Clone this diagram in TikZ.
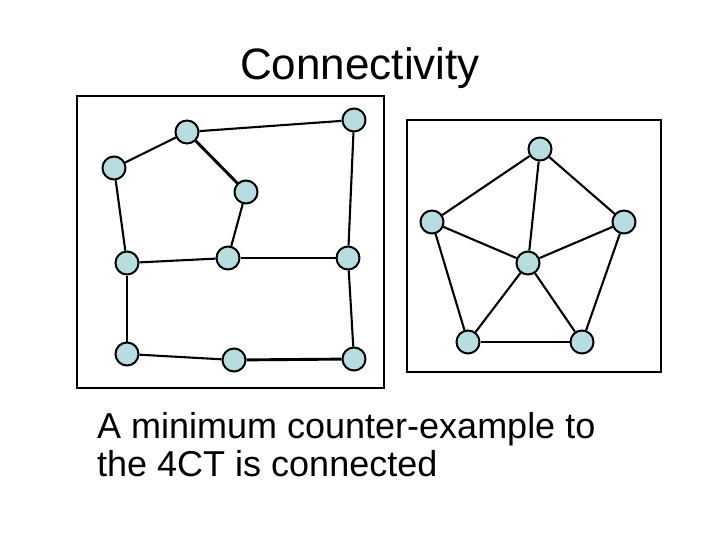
\documentclass[tikz,border=0pt]{standalone}
\usepackage{fontspec}
\setmainfont{Liberation Sans}
\usepackage{xcolor}
\usepackage{tikz}
\definecolor{vertexblue}{RGB}{184,221,225}

\begin{document}
\begin{tikzpicture}[
    x=1pt, y=-1pt,
    vx/.style={circle, draw, line width=2pt, fill=vertexblue, minimum size=23pt, inner sep=0pt},
    ed/.style={draw, line width=2.1pt},
    edb/.style={draw, line width=2.9pt},
    frame/.style={draw, line width=2.4pt}
]
\useasboundingbox (0,0) rectangle (720,540);

\node[font=\fontsize{44}{48}\selectfont] (title) at (360,68) {Connectivity};

% left graph: two cycles joined
\draw[frame] (77,96) rectangle (384,388);
\node[vx] (a) at (187,132) {};
\node[vx] (b) at (354,120) {};
\node[vx] (c) at (114,168) {};
\node[vx] (d) at (246,192) {};
\node[vx] (e) at (127,263) {};
\node[vx] (f) at (228,258) {};
\node[vx] (g) at (348,258) {};
\node[vx] (h) at (127,354) {};
\node[vx] (i) at (234,360) {};
\node[vx] (j) at (354,359) {};

\draw[ed] (a) -- (b);
\draw[ed] (a) -- (c);
\draw[edb] (a) -- (d);
\draw[ed] (c) -- (e);
\draw[ed] (d) -- (f);
\draw[ed] (e) -- (f);
\draw[edb] (f) -- (g);
\draw[ed] (b) -- (g);
\draw[edb] (e) -- (h);
\draw[ed] (g) -- (j);
\draw[ed] (h) -- (i);
\draw[edb] (i) -- (j);

% right graph: wheel
\draw[frame] (407,120) rectangle (661,372);
\node[vx] (top) at (540,149) {};
\node[vx] (lft) at (432,222) {};
\node[vx] (rgt) at (624,222) {};
\node[vx] (hub) at (528,263) {};
\node[vx] (bl) at (468,342) {};
\node[vx] (br) at (582,342) {};

\draw[ed] (top) -- (lft);
\draw[ed] (top) -- (rgt);
\draw[ed] (lft) -- (bl);
\draw[ed] (rgt) -- (br);
\draw[ed] (bl) -- (br);
\foreach \n in {top,lft,rgt,bl,br}
  \draw[ed] (hub) -- (\n);

\node[font=\fontsize{36}{38.5}\selectfont, align=left, anchor=north west, inner sep=0pt] (caption) at (97,412)
  {A minimum counter-example to\\the 4CT is connected};
\end{tikzpicture}
\end{document}
